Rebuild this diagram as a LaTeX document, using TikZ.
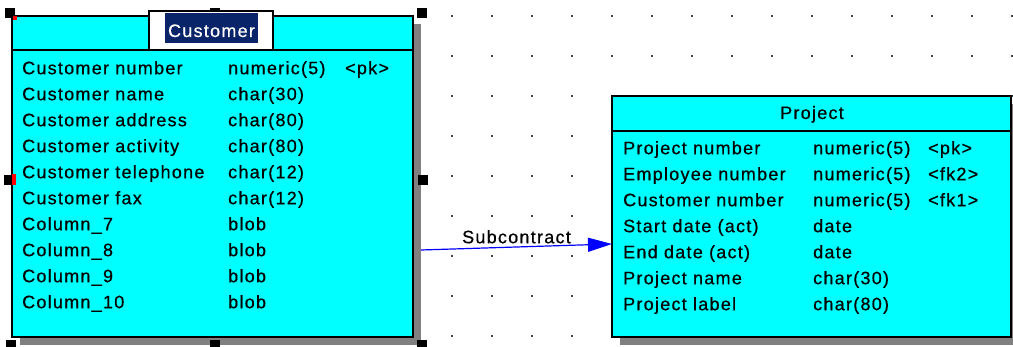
\documentclass[tikz,border=0pt]{standalone}
\usepackage{fontspec}
\setmainfont{Liberation Sans}[LetterSpace=7, FakeBold=0.6]
\usetikzlibrary{arrows.meta,shadows}
\definecolor{tablecyan}{RGB}{0,255,255}
\definecolor{shadowgray}{RGB}{128,128,128}
\definecolor{selectnavy}{RGB}{10,36,106}
\definecolor{relblue}{RGB}{0,0,255}
\tikzset{
    tablebox/.style={draw=black, line width=1.5pt, fill=tablecyan, outer sep=0pt, inner sep=0pt, anchor=north west,
        drop shadow={shadow xshift=8pt, shadow yshift=-8pt, fill=shadowgray, opacity=1}},
    columns/.style={anchor=north west, inner sep=0pt, align=left},
    handle/.style={fill=black, minimum size=10pt, inner sep=0pt},
    relation/.style={draw=relblue, line width=1.2pt, -{Triangle[length=24pt,width=14pt]}},
}
\begin{document}
\begin{tikzpicture}[x=1pt, y=-1pt, font=\fontsize{18}{26}\selectfont]
    \useasboundingbox (0,0) rectangle (1013,347);
    \clip (0,0) rectangle (1013,347);
    \fill[white] (0,0) rectangle (1013,347);
    \foreach \x in {452,492,...,1012}
        \foreach \y in {16,56,...,336}
            \fill[black!75] (\x-0.8,\y-0.8) rectangle (\x+0.8,\y+0.8);
    \node[tablebox, minimum width=401pt, minimum height=321pt] (customer) at (12,16) {};
    \draw[line width=1.5pt] ([yshift=-34pt]customer.north west) -- ([yshift=-34pt]customer.north east);
    \node[columns] (custcols) at (22,55.8) {
        \begin{tabular}{@{}p{206pt}@{}p{117pt}@{}l@{}}
        Customer number & numeric(5) & <pk> \\
        Customer name & char(30) & \\
        Customer address & char(80) & \\
        Customer activity & char(80) & \\
        Customer telephone & char(12) & \\
        Customer fax & char(12) & \\
        Column\_7 & blob & \\
        Column\_8 & blob & \\
        Column\_9 & blob & \\
        Column\_10 & blob & \\
        \end{tabular}
    };
    \node[tablebox, minimum width=399pt, minimum height=241pt] (project) at (612,96) {};
    \draw[line width=1.5pt] ([yshift=-35pt]project.north west) -- ([yshift=-35pt]project.north east);
    \node[anchor=base, inner sep=0pt] (projname) at (812,119) {Project};
    \node[columns] (projcols) at (623,135.8) {
        \begin{tabular}{@{}p{190pt}@{}p{115pt}@{}l@{}}
        Project number & numeric(5) & <pk> \\
        Employee number & numeric(5) & <fk2> \\
        Customer number & numeric(5) & <fk1> \\
        Start date (act) & date & \\
        End date (act) & date & \\
        Project name & char(30) & \\
        Project label & char(80) & \\
        \end{tabular}
    };
    \foreach \hx/\hy in {10/13, 215/13, 422/13, 9/180, 423/180, 11/345, 215/345, 422/345}
        \node[handle] at (\hx,\hy) {};
    \fill[red] (13,16) rectangle (17,20);
    \fill[red] (12,174) rectangle (16,185);
    \node[draw=black, line width=1.5pt, fill=white, minimum width=124pt, minimum height=39pt, inner sep=0pt] (custtitle) at (211,30.5) {};
    \node[fill=selectnavy, text=white, minimum width=93pt, minimum height=30pt, inner sep=0pt, text height=18pt, text depth=0pt] (custname) at (211.5,28) {Customer};
    \draw[relation] ([xshift=8pt, yshift=-73.5pt]customer.east) -- ([yshift=-27.5pt]project.west)
        node[midway, above=3pt, inner sep=0pt, text=black] (relname) {Subcontract};
\end{tikzpicture}
\end{document}
